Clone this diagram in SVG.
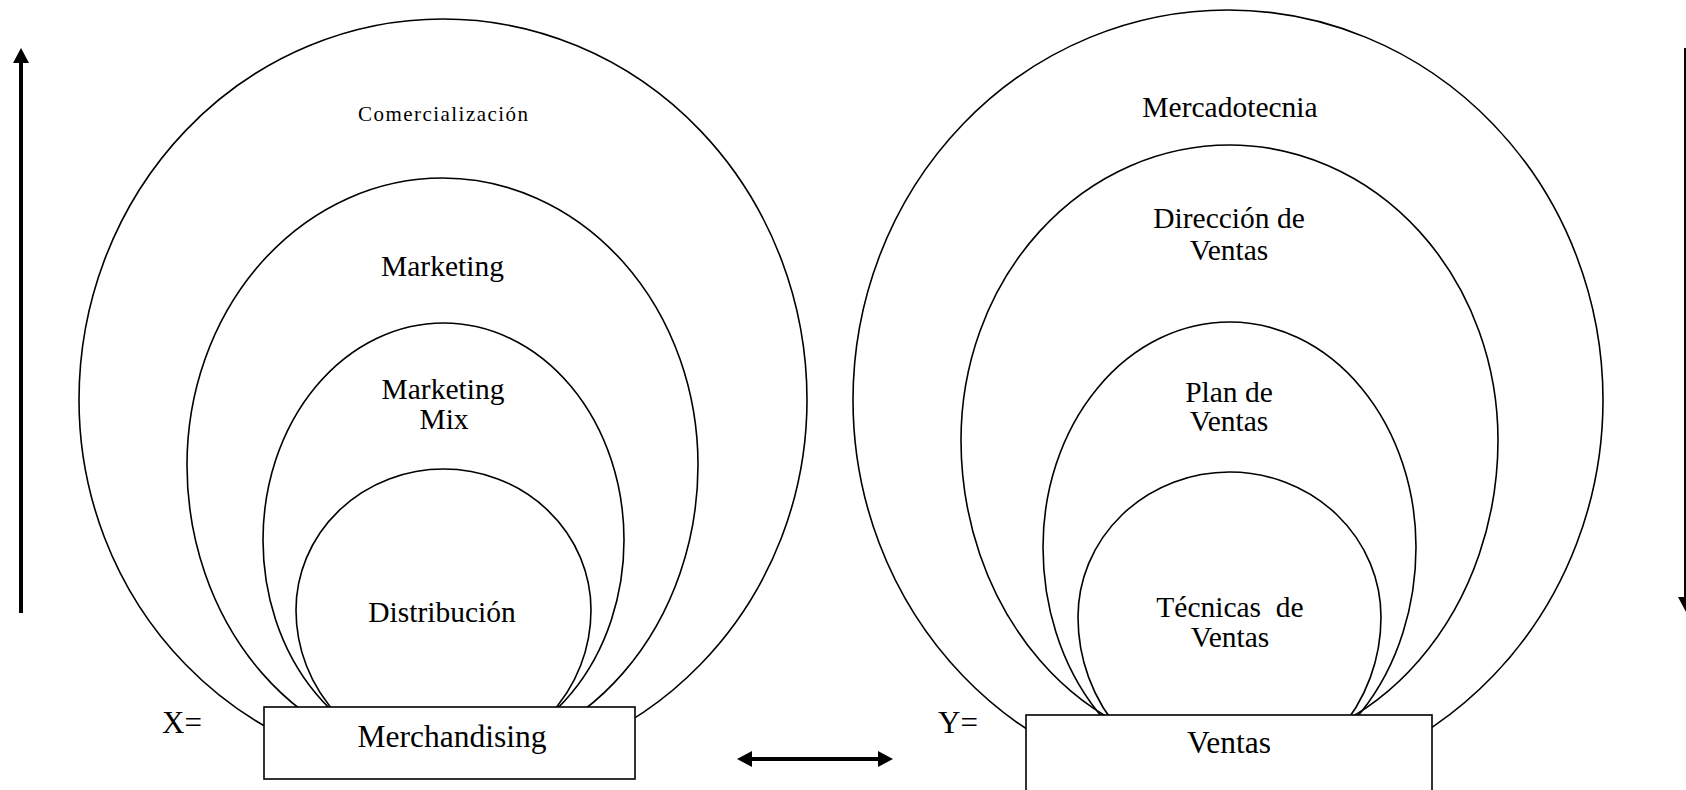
<svg xmlns="http://www.w3.org/2000/svg" width="1686" height="790" viewBox="0 0 1686 790">
  <style>
    .ring { fill: none; stroke: #000; stroke-width: 1.6; }
    .box { fill: #fff; stroke: #000; stroke-width: 1.6; }
    .lbl { font-family: "Liberation Serif", "Times New Roman", serif; font-size: 29.5px; fill: #000; text-anchor: middle; white-space: pre; }
    .big { font-family: "Liberation Serif", "Times New Roman", serif; font-size: 31.5px; fill: #000; }
    .arrow { stroke: #000; stroke-width: 4; fill: none; }
  </style>
  <defs>
    <marker id="head" markerUnits="userSpaceOnUse" markerWidth="16" markerHeight="16" refX="0" refY="8" orient="auto-start-reverse">
      <path d="M0,0 L15,8 L0,16 Z" fill="#000"/>
    </marker>
  </defs>

  <rect width="1686" height="790" fill="#fff"/>

  <!-- Left family: Merchandising -->
  <g id="comercializacion">
    <path class="ring" d="M79,400 A364,381 0 0 1 807,400 A364,374 0 0 1 79,400 Z"/>
    <text class="lbl" x="443" y="121" style="font-size:21px" textLength="170" lengthAdjust="spacing">Comercialización</text>
  </g>
  <g id="marketing">
    <path class="ring" d="M187,465 A255.5,287 0 0 1 698,465 A255.5,294 0 0 1 187,465 Z"/>
    <text class="lbl" x="442.5" y="276">Marketing</text>
  </g>
  <g id="marketing-mix">
    <ellipse class="ring" cx="443.5" cy="540" rx="180.5" ry="217"/>
    <text class="lbl" x="443" y="399">Marketing</text>
    <text class="lbl" x="444" y="429">Mix</text>
  </g>
  <g id="distribucion">
    <path class="ring" d="M296,610 A147.5,141 0 0 1 591,610 A147.5,151 0 0 1 296,610 Z"/>
    <text class="lbl" x="442" y="622">Distribución</text>
  </g>
  <g id="merchandising">
    <text class="big" x="162" y="733" style="font-size:31px">X=</text>
    <rect class="box" x="264" y="707" width="371" height="72"/>
    <text class="big" x="452" y="747" text-anchor="middle">Merchandising</text>
  </g>

  <!-- Right family: Ventas -->
  <g id="mercadotecnia">
    <ellipse class="ring" cx="1228" cy="400" rx="375" ry="390"/>
    <text class="lbl" x="1230" y="117">Mercadotecnia</text>
  </g>
  <g id="direccion-ventas">
    <path class="ring" d="M961,440 A268.5,295 0 0 1 1498,440 A268.5,311 0 0 1 961,440 Z"/>
    <text class="lbl" x="1229" y="228">Dirección de</text>
    <text class="lbl" x="1229" y="260">Ventas</text>
  </g>
  <g id="plan-ventas">
    <path class="ring" d="M1043,547 A186.5,225 0 0 1 1416,547 A186.5,233 0 0 1 1043,547 Z"/>
    <text class="lbl" x="1229" y="402">Plan de</text>
    <text class="lbl" x="1229" y="431">Ventas</text>
  </g>
  <g id="tecnicas-ventas">
    <path class="ring" d="M1078,617 A151.5,145 0 0 1 1381,617 A151.5,164 0 0 1 1078,617 Z"/>
    <text class="lbl" x="1230" y="617">Técnicas  de</text>
    <text class="lbl" x="1230" y="647">Ventas</text>
  </g>
  <g id="ventas">
    <text class="big" x="938" y="733" style="font-size:31px">Y=</text>
    <rect class="box" x="1026" y="715" width="406" height="90"/>
    <text class="big" x="1229" y="753" text-anchor="middle">Ventas</text>
  </g>

  <!-- Arrows -->
  <g id="connectors">
    <line class="arrow" x1="21" y1="613" x2="21" y2="63" marker-end="url(#head)"/>
    <line class="arrow" x1="752" y1="759" x2="878" y2="759" marker-start="url(#head)" marker-end="url(#head)"/>
    <line class="arrow" x1="1686" y1="48" x2="1686" y2="597" marker-end="url(#head)"/>
  </g>
</svg>
